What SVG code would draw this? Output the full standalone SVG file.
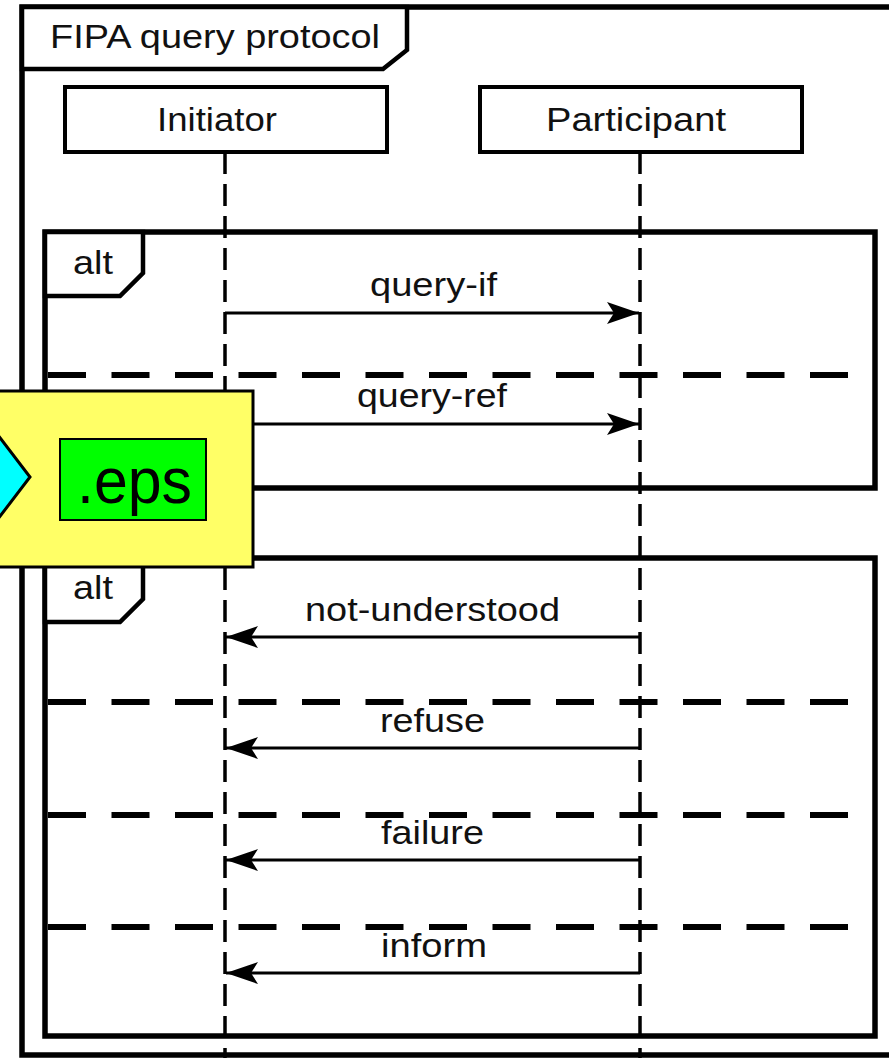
<svg xmlns="http://www.w3.org/2000/svg" width="889" height="1058" viewBox="0 0 889 1058">
<style>
  .frame{fill:none;stroke:#000;stroke-width:5.5}
  .tag{fill:#fff;stroke:#000;stroke-width:4.5;stroke-linejoin:miter}
  .box{fill:#fff;stroke:#000;stroke-width:4}
  .life{stroke:#000;stroke-width:3.5;stroke-dasharray:22 10;fill:none}
  .sep{stroke:#000;stroke-width:6;stroke-dasharray:38 25.5;fill:none}
  .msg{stroke:#000;stroke-width:3.2;fill:none}
  .t{font-family:"Liberation Sans",Arial,sans-serif;font-size:33px;fill:#111}
</style>
<defs>
  <marker id="ah" viewBox="-33 -12 35 24" refX="0" refY="0" markerWidth="35" markerHeight="24" markerUnits="userSpaceOnUse" orient="auto">
    <path d="M0,0 L-32,-11 L-25,0 L-32,11 Z" fill="#000"/>
  </marker>
</defs>
<rect width="889" height="1058" fill="#fff"/>

<g id="frame">
  <rect class="frame" x="22" y="7" width="900" height="1048"/>
  <path class="tag" d="M22,7 L407,7 L407,50 L383,69 L22,69 Z"/>
  <text class="t" x="50" y="48" textLength="330" lengthAdjust="spacingAndGlyphs">FIPA query protocol</text>
</g>

<g id="alt1">
  <rect class="frame" x="45" y="232" width="830" height="256"/>
  <path class="tag" d="M45,232 L143,232 L143,273 L120,296 L45,296 Z"/>
  <text class="t" x="73" y="274" textLength="40" lengthAdjust="spacingAndGlyphs">alt</text>
  <line class="sep" x1="48" y1="375" x2="856" y2="375"/>
</g>

<g id="alt2">
  <rect class="frame" x="45" y="558" width="830" height="478"/>
  <path class="tag" d="M45,558 L143,558 L143,599 L120,622 L45,622 Z"/>
  <text class="t" x="73" y="599" textLength="40" lengthAdjust="spacingAndGlyphs">alt</text>
  <line class="sep" x1="48" y1="702" x2="856" y2="702"/>
  <line class="sep" x1="48" y1="815" x2="856" y2="815"/>
  <line class="sep" x1="48" y1="927" x2="856" y2="927"/>
</g>

<g id="initiator">
  <line class="life" x1="225" y1="152" x2="225" y2="1058"/>
  <rect class="box" x="65" y="87" width="322" height="65"/>
  <text class="t" x="157" y="131" textLength="120" lengthAdjust="spacingAndGlyphs">Initiator</text>
</g>

<g id="participant">
  <line class="life" x1="640" y1="152" x2="640" y2="1058"/>
  <rect class="box" x="480" y="87" width="322" height="65"/>
  <text class="t" x="546" y="131" textLength="180" lengthAdjust="spacingAndGlyphs">Participant</text>
</g>

<g id="connectors">
  <line class="msg" x1="225" y1="313" x2="639" y2="313" marker-end="url(#ah)"/>
  <text class="t" x="370" y="296" textLength="127" lengthAdjust="spacingAndGlyphs">query-if</text>
  <line class="msg" x1="225" y1="424" x2="639" y2="424" marker-end="url(#ah)"/>
  <text class="t" x="357" y="407" textLength="150" lengthAdjust="spacingAndGlyphs">query-ref</text>

  <line class="msg" x1="640" y1="637" x2="226" y2="637" marker-end="url(#ah)"/>
  <text class="t" x="305" y="621" textLength="255" lengthAdjust="spacingAndGlyphs">not-understood</text>
  <line class="msg" x1="640" y1="748" x2="226" y2="748" marker-end="url(#ah)"/>
  <text class="t" x="380" y="732" textLength="105" lengthAdjust="spacingAndGlyphs">refuse</text>
  <line class="msg" x1="640" y1="860" x2="226" y2="860" marker-end="url(#ah)"/>
  <text class="t" x="381" y="844" textLength="103" lengthAdjust="spacingAndGlyphs">failure</text>
  <line class="msg" x1="640" y1="973" x2="226" y2="973" marker-end="url(#ah)"/>
  <text class="t" x="381" y="957" textLength="106" lengthAdjust="spacingAndGlyphs">inform</text>
</g>

<g id="overlay">
  <rect x="-10" y="391" width="263" height="176" fill="#ffff66" stroke="#000" stroke-width="3"/>
  <polygon points="-12,422 30,477 -12,532" fill="#00ffff" stroke="#000" stroke-width="3" stroke-linejoin="miter"/>
  <rect x="60" y="439" width="146" height="81" fill="#00ff00" stroke="#000" stroke-width="2"/>
  <text x="77" y="503" font-family="'Liberation Sans',Arial,sans-serif" font-size="64" fill="#000" textLength="115" lengthAdjust="spacingAndGlyphs">.eps</text>
</g>
</svg>
